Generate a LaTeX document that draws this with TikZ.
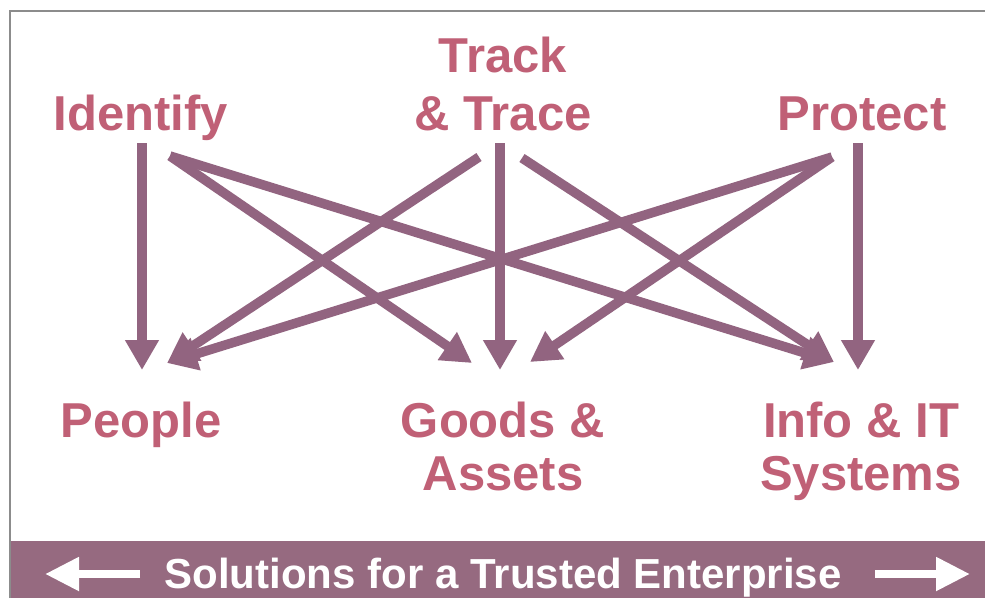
\documentclass[tikz,border=0pt]{standalone}
\usepackage{fontspec}
\setmainfont{Liberation Sans}
\usetikzlibrary{arrows.meta}
\definecolor{labelrose}{RGB}{192,96,118}
\definecolor{linkmauve}{RGB}{146,100,128}
\definecolor{barmauve}{RGB}{150,106,128}
\definecolor{framegray}{RGB}{140,140,140}
\begin{document}
\begin{tikzpicture}[x=1pt,y=-1pt,
  lbl/.style={font=\fontsize{49}{55}\selectfont\bfseries, text=labelrose,
              inner sep=0pt, align=center, anchor=base},
  link/.style={draw=linkmauve, line width=9.5pt,
               -{Triangle[length=30pt,width=32pt]}},
  bararrow/.style={draw=white, line width=8pt,
               -{Triangle[length=34pt,width=32pt]}},
  bartext/.style={font=\fontsize{42}{48}\selectfont\bfseries, text=white,
              inner sep=0pt, anchor=base}]
\useasboundingbox (0,0) rectangle (985,598);
\fill[white] (0,0) rectangle (985,598);

% frame and bottom band
\draw[framegray, line width=2pt] (10,598) -- (10,11) -- (985,11);
\fill[barmauve] (11,541) rectangle (985,598);

% capabilities (top row); multi-line labels sit on their last baseline
\node[lbl] (identify) at (141,130) {Identify};
\node[lbl] (track)    at (503,130) {Track\\[3pt]\& Trace};
\node[lbl] (protect)  at (862,130) {Protect};

% domains (bottom row)
\node[lbl] (people) at (141,437) {People};
\node[lbl] (goods)  at (503,490) {Goods \&\\[-2pt]Assets};
\node[lbl] (info)   at (861,490) {Info \& IT\\[-2pt]Systems};

% arrow end points
\coordinate (idV)  at (142,143);
\coordinate (idD)  at (170,156);
\coordinate (trL)  at (479,157);
\coordinate (trV)  at (500,143);
\coordinate (trR)  at (522,158);
\coordinate (prD)  at (832,157);
\coordinate (prV)  at (858,143);

\coordinate (peV)  at (142,370);
\coordinate (peD)  at (167,363);
\coordinate (goL)  at (472,363);
\coordinate (goV)  at (500,370);
\coordinate (goR)  at (530,362);
\coordinate (inD)  at (834,362);
\coordinate (inV)  at (858,370);

% links
\draw[link] (idV) -- (peV);
\draw[link] (idD) -- (goL);
\draw[link] (idD) -- (inD);
\draw[link] (trL) -- (peD);
\draw[link] (trV) -- (goV);
\draw[link] (trR) -- (inD);
\draw[link] (prD) -- (peD);
\draw[link] (prD) -- (goR);
\draw[link] (prV) -- (inV);

% band caption with arrows
\node[bartext] (caption) at (503,588) {Solutions for a Trusted Enterprise};
\coordinate (lbStart) at (140,574);
\coordinate (lbEnd)   at (45,574);
\coordinate (rbStart) at (875,574);
\coordinate (rbEnd)   at (970,574);
\draw[bararrow] (lbStart) -- (lbEnd);
\draw[bararrow] (rbStart) -- (rbEnd);
\end{tikzpicture}
\end{document}
